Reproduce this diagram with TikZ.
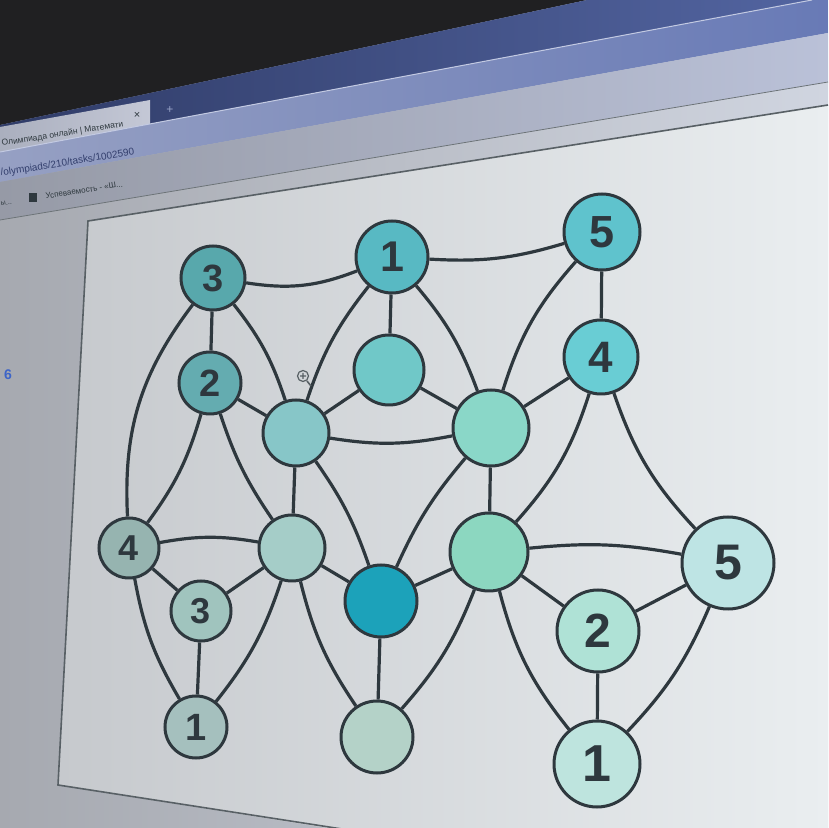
\documentclass[tikz,border=0pt]{standalone}
\usepackage{fontspec}
\setmainfont{Liberation Sans}

\definecolor{ink}{RGB}{46,56,62}
\definecolor{darktop}{RGB}{32,32,34}
\definecolor{stripL}{RGB}{48,60,104}
\definecolor{stripR}{RGB}{82,100,160}
\definecolor{tabL}{RGB}{170,175,190}
\definecolor{tabR}{RGB}{196,200,214}
\definecolor{addrL}{RGB}{150,160,195}
\definecolor{addrR}{RGB}{104,122,182}
\definecolor{bmarkL}{RGB}{150,154,166}
\definecolor{bmarkR}{RGB}{186,193,216}
\definecolor{pageL}{RGB}{166,169,176}
\definecolor{pageR}{RGB}{208,213,224}
\definecolor{frameL}{RGB}{198,201,205}
\definecolor{frameR}{RGB}{234,238,240}
\definecolor{urlcol}{RGB}{50,62,108}
\definecolor{linkcol}{RGB}{60,100,200}

% vertex colours (the photo shades them)
\definecolor{cA}{RGB}{88,168,172}
\definecolor{cB}{RGB}{88,185,195}
\definecolor{cC}{RGB}{95,195,205}
\definecolor{cD}{RGB}{100,172,176}
\definecolor{cE}{RGB}{112,200,200}
\definecolor{cF}{RGB}{105,205,212}
\definecolor{cG}{RGB}{135,198,200}
\definecolor{cH}{RGB}{138,215,200}
\definecolor{cI}{RGB}{150,180,176}
\definecolor{cJ}{RGB}{165,205,200}
\definecolor{cK}{RGB}{140,215,192}
\definecolor{cL}{RGB}{190,228,228}
\definecolor{cM}{RGB}{160,196,190}
\definecolor{cN}{RGB}{28,162,186}
\definecolor{cO}{RGB}{175,226,214}
\definecolor{cP}{RGB}{165,192,190}
\definecolor{cQ}{RGB}{180,210,200}
\definecolor{cR}{RGB}{190,228,222}

\tikzset{
  vtx/.style={circle, draw=ink, line width=3pt, inner sep=0pt, text=ink},
  digit/.style={font=\bfseries\fontsize{#1}{#1}\selectfont},
  lnk/.style={draw=ink, line width=3.2pt},
  barText/.style={anchor=base west, rotate=9, inner sep=0pt},
}

\begin{document}
\begin{tikzpicture}[x=1pt,y=1pt]
\useasboundingbox (0,0) rectangle (828,828);
\clip (0,0) rectangle (828,828);

% screen and browser bars
\shade[left color=pageL, right color=pageR] (0,0) rectangle (828,828);
\fill[darktop] (0,703) -- (587,828) -- (0,828) -- cycle;
\shade[left color=stripL, right color=stripR] (0,703) -- (587,828) -- (812,828) -- (0,676) -- cycle;
\shade[left color=tabL, right color=tabR] (0,676) -- (0,701) -- (150,728) -- (150,704) -- cycle;
\shade[left color=addrL, right color=addrR] (0,646) -- (0,676) -- (812,828) -- (828,828) -- (828,795) -- cycle;
\shade[left color=bmarkL, right color=bmarkR] (0,608) -- (0,646) -- (828,795) -- (828,746) -- cycle;
\draw[addrR!40!white, line width=1pt] (0,676) -- (812,828);
\draw[ink!70, line width=0.8pt] (0,608) -- (828,746);
\node[barText, font=\fontsize{8.5}{8.5}\selectfont, text=ink] (tab) at (2,682) {Олимпиада онлайн | Математи};
\node[font=\fontsize{11}{11}\selectfont, text=ink] (tabx) at (137,713) {×};
\node[font=\fontsize{12}{12}\selectfont, text=stripR!60!white] (plus) at (170,718) {+};
\node[barText, font=\fontsize{10}{10}\selectfont, text=urlcol] (url) at (1,652) {/olympiads/210/tasks/1002590};
\node[barText, font=\fontsize{7}{7}\selectfont, text=ink] (bmk0) at (1,622) {ы...};
\fill[ink] (29,626) rectangle (37,635);
\node[barText, font=\fontsize{8}{8}\selectfont, text=ink] (bmk) at (46,629) {Успеваемость - «Ш...};
\node[font=\bfseries\fontsize{14}{14}\selectfont, text=linkcol] (six) at (8,453) {6};

% frame round the task picture
\shade[left color=frameL, right color=frameR]
  (88,607) -- (828,723) -- (828,-80) -- (58,43) -- cycle;
\draw[ink!80, line width=1.6pt] (828,723) -- (88,607) -- (58,43) -- (400,-10);

% vertices
\node[vtx, fill=cA, minimum size=64pt, digit=38] (a3) at (213,550) {3};
\node[vtx, fill=cB, minimum size=72pt, digit=43] (t1) at (392,571) {1};
\node[vtx, fill=cC, minimum size=76pt, digit=45] (t5) at (602,596) {5};
\node[vtx, fill=cD, minimum size=62pt, digit=38] (l2) at (210,445) {2};
\node[vtx, fill=cE, minimum size=70pt] (m1) at (389,458) {};
\node[vtx, fill=cF, minimum size=74pt, digit=44] (r4) at (601,471) {4};
\node[vtx, fill=cG, minimum size=66pt] (c1) at (296,395) {};
\node[vtx, fill=cH, minimum size=76pt] (c2) at (491,400) {};
\node[vtx, fill=cI, minimum size=60pt, digit=36] (l4) at (129,280) {4};
\node[vtx, fill=cJ, minimum size=66pt] (c3) at (292,280) {};
\node[vtx, fill=cK, minimum size=78pt] (c4) at (489,276) {};
\node[vtx, fill=cL, minimum size=92pt, digit=50] (r5) at (728,265) {5};
\node[vtx, fill=cM, minimum size=60pt, digit=36] (l3) at (201,217) {3};
\node[vtx, fill=cN, minimum size=72pt] (d) at (381,227) {};
\node[vtx, fill=cO, minimum size=82pt, digit=48] (r2) at (598,197) {2};
\node[vtx, fill=cP, minimum size=62pt, digit=38] (b1) at (196,101) {1};
\node[vtx, fill=cQ, minimum size=72pt] (bm) at (377,91) {};
\node[vtx, fill=cR, minimum size=86pt, digit=52] (br1) at (597,64) {1};

% straight edges
\foreach \a/\b in {a3/l2, t1/m1, t5/r4, l2/c1, m1/c1, m1/c2, c2/r4, c1/c3,
                   c2/c4, l4/l3, l3/c3, l3/b1, c3/d, d/c4, d/bm, c4/r2,
                   r2/r5, r2/br1}
  \draw[lnk] (\a) -- (\b);

% curved edges (negative = bend right)
\foreach \a/\b/\ang in {a3/t1/-15, t1/t5/-10, a3/l4/-20, a3/c1/10, t1/c1/-10,
                        t1/c2/10, t5/c2/-12, l2/l4/10, l2/c3/-8, c1/c2/-10,
                        c1/d/8, c2/d/-8, r4/c4/12, r4/r5/-12, l4/c3/10,
                        l4/b1/-10, c3/b1/10, c3/bm/-10, c4/bm/10, c4/r5/8,
                        c4/br1/-12, r5/br1/10}
  \draw[lnk] (\a) to[bend left=\ang] (\b);

% zoom cursor
\draw[ink!80, line width=1.2pt] (303,452) circle (5.5)
  (300,452) -- (306,452) (303,449) -- (303,455);
\draw[ink!80, line width=1.6pt] (307,447) -- (311,442);
\end{tikzpicture}
\end{document}
